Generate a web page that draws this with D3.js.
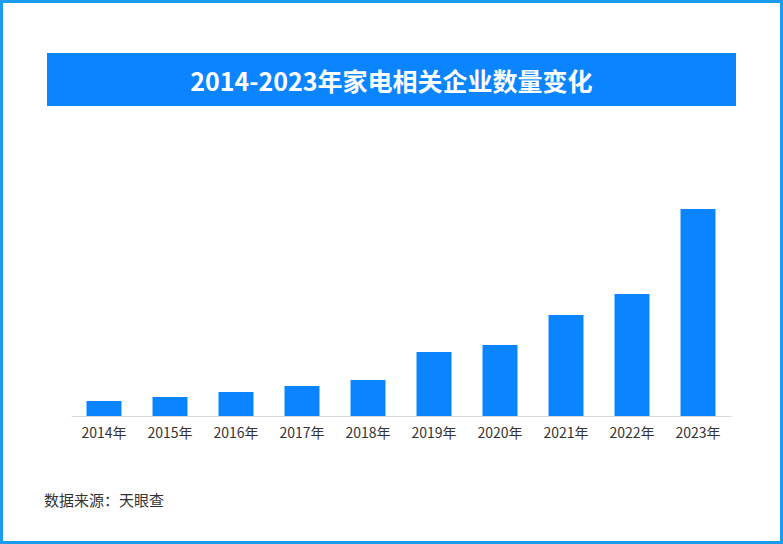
<!DOCTYPE html>
<html><head><meta charset="utf-8">
<script src="https://cdn.jsdelivr.net/npm/d3@7"></script>
<style>body{margin:0;background:#fff}svg{display:block}</style>
</head><body><svg id="c" width="783" height="544"></svg>
<script>
const categories = ["2014年","2015年","2016年","2017年","2018年","2019年","2020年","2021年","2022年","2023年"];
const values = [15,19,24,30,36,64,71,101,122,207];
const title = "2014-2023年家电相关企业数量变化";
const source = "数据来源：天眼查";

const svg = d3.select("#c");
const font = "'Noto Sans CJK SC', sans-serif";
svg.append("rect").attr("x",1.5).attr("y",1.5).attr("width",780).attr("height",541)
  .attr("fill","none").attr("stroke","#1a9cf0").attr("stroke-width",3);
svg.append("rect").attr("x",47).attr("y",53).attr("width",689).attr("height",53).attr("fill","#0a84ff");
svg.append("text").attr("x",391.5).attr("y",80).attr("text-anchor","middle").attr("dominant-baseline","central")
  .attr("fill","#fff").attr("font-family",font).attr("font-weight","bold").attr("font-size",25).text(title);

const x = d3.scaleBand().domain(categories).range([71,731]).paddingInner(0.47).paddingOuter(0.235);
const y = d3.scaleLinear().domain([0,207]).range([416,209]);
svg.selectAll(".bar").data(values).join("rect")
  .attr("x",(d,i)=>x(categories[i])).attr("width",x.bandwidth())
  .attr("y",d=>y(d)).attr("height",d=>y(0)-y(d)).attr("fill","#0a84ff");
const ax = svg.append("g").attr("transform","translate(0,416)").call(d3.axisBottom(x).tickSize(0).tickPadding(12));
ax.select(".domain").attr("stroke","#d9d9d9");
ax.selectAll("text").attr("font-family",font).attr("font-size",14).attr("fill","#333");
svg.append("text").attr("x",44).attr("y",506).attr("font-family",font).attr("font-size",15).attr("fill","#333").text(source);
</script></body></html>
